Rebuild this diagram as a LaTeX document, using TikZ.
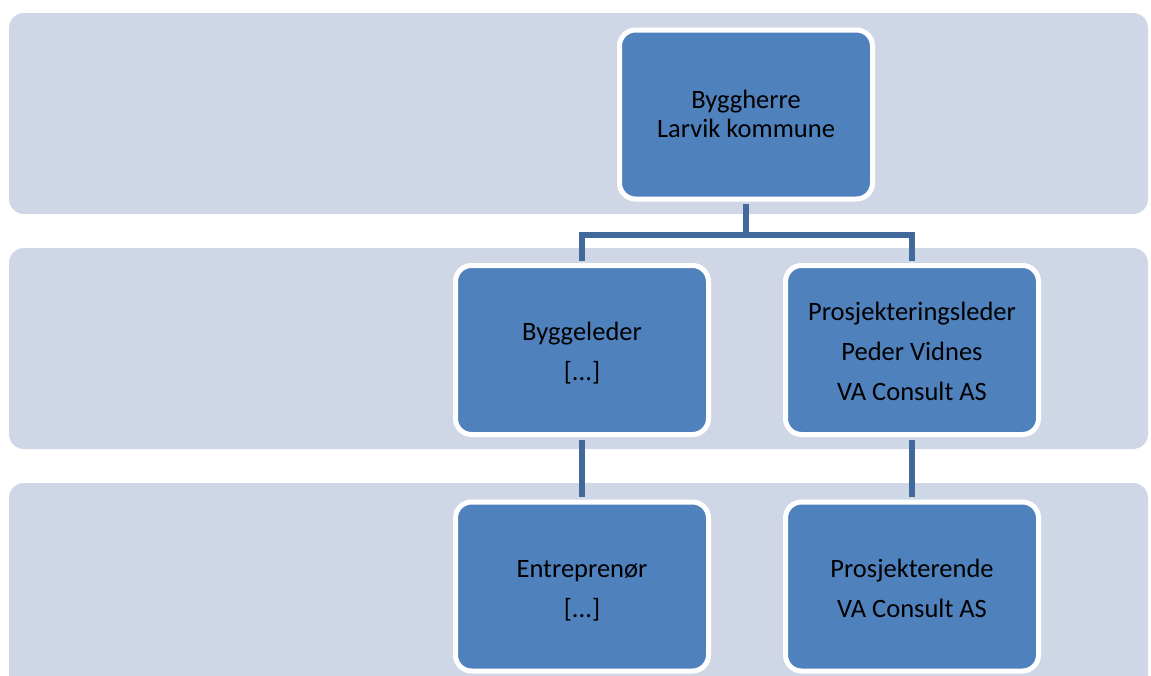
\documentclass[tikz,border=0pt]{standalone}
\usepackage{fontspec}
\setmainfont{Carlito}
\definecolor{bandcol}{HTML}{CFD7E7}
\definecolor{boxcol}{HTML}{4F81BD}
\definecolor{conncol}{HTML}{41699C}
\newcommand{\bxstrut}{\rule[-.3\baselineskip]{0pt}{\dimexpr\baselineskip+5pt\relax}}
\begin{document}
\begin{tikzpicture}[x=1pt,y=-1pt,
  band/.style={fill=bandcol, rounded corners=15pt},
  orgbox/.style={draw=white, line width=5pt, fill=boxcol, rounded corners=16pt,
    minimum width=253pt, minimum height=169pt, align=center, inner sep=0pt,
    font=\fontsize{26.5}{40}\selectfont},
  conn/.style={draw=conncol, line width=6pt, shorten <=2.5pt, shorten >=2.5pt}]
\useasboundingbox (0,0) rectangle (1151,675);
\clip (0,0) rectangle (1151,675);
\fill[band] (9,13) rectangle (1148,214);
\fill[band] (9,248) rectangle (1148,449);
\fill[band] (9,483) rectangle (1148,720);

\node[orgbox, font=\fontsize{26.5}{29}\selectfont] (bh) at (746,114.5) {\bxstrut Byggherre\strut\\Larvik kommune\strut};
\node[orgbox] (bl) at (582,350) {\bxstrut Byggeleder\strut\\{[...]}\strut};
\node[orgbox] (pl) at (912,350) {\bxstrut Prosjekteringsleder\strut\\Peder Vidnes\strut\\VA Consult AS\strut};
\node[orgbox] (en) at (582,586.5) {\bxstrut Entreprenør\strut\\{[...]}\strut};
\node[orgbox] (pr) at (912,586.5) {\bxstrut Prosjekterende\strut\\VA Consult AS\strut};

\draw[conn, shorten >=0pt] (bh.south) -- ++(0,33.5) coordinate (mid);
\draw[conn, shorten <=0pt] (mid) -| (bl.north);
\draw[conn, shorten <=0pt] (mid) -| (pl.north);
\draw[conn] (bl.south) -- (en.north);
\draw[conn] (pl.south) -- (pr.north);
\end{tikzpicture}
\end{document}
